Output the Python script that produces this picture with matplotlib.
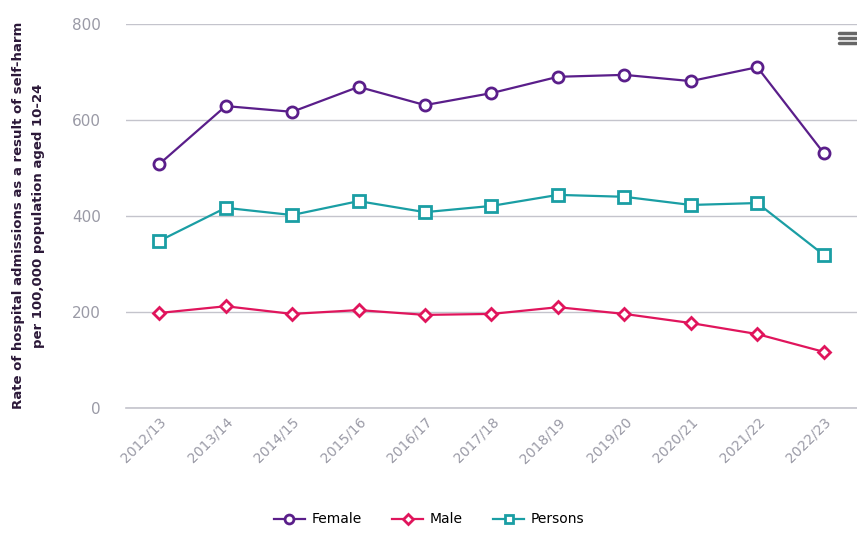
import matplotlib
matplotlib.use('Agg')
import matplotlib.pyplot as plt
from matplotlib.lines import Line2D

years = ['2012/13', '2013/14', '2014/15', '2015/16', '2016/17', '2017/18',
         '2018/19', '2019/20', '2020/21', '2021/22', '2022/23']
female = [508, 629, 617, 669, 631, 656, 690, 694, 681, 710, 531]
male = [198, 212, 196, 204, 194, 196, 210, 196, 177, 154, 117]
persons = [348, 417, 402, 431, 408, 421, 444, 440, 423, 427, 319]

c_female = '#5a1e8a'
c_male = '#e0155c'
c_persons = '#1a9ea4'

fig = plt.figure(figsize=(8.57, 5.33), dpi=100)
ax = fig.add_axes([0.147, 0.2345, 0.853, 0.7205])

x = list(range(len(years)))
ax.plot(x, female, color=c_female, lw=1.6, marker='o', ms=8, mfc='white',
        mec=c_female, mew=2, label='Female', zorder=3)
ax.plot(x, male, color=c_male, lw=1.6, marker='D', ms=6.5, mfc='white',
        mec=c_male, mew=2, label='Male', zorder=3)
ax.plot(x, persons, color=c_persons, lw=1.6, marker='s', ms=8, mfc='white',
        mec=c_persons, mew=2, label='Persons', zorder=3)

ax.set_xlim(-0.5, len(years) - 0.5)
ax.set_ylim(0, 800)
ax.set_yticks([0, 200, 400, 600, 800])
ax.set_xticks(x)
ax.set_xticklabels(years, rotation=45, ha='right', rotation_mode='anchor')
ax.tick_params(axis='x', length=0, pad=5, labelsize=10, labelcolor='#9a9aa6')
ax.tick_params(axis='y', length=0, pad=18, labelsize=11, labelcolor='#9a9aa6')
ax.grid(axis='y', color='#c4c4cc', lw=1)
ax.axhline(0, color='#c4c4cc', lw=1.2, clip_on=False, zorder=1)
ax.set_axisbelow(True)
for s in ax.spines.values():
    s.set_visible(False)

fig.text(0.033, 0.595, 'Rate of hospital admissions as a result of self-harm\nper 100,000 population aged 10-24',
         rotation=90, ha='center', va='center', fontsize=9.5, fontweight='bold',
         color='#2b1838', linespacing=1.65)

ax.legend(loc='center', bbox_to_anchor=(0.415, -0.29), bbox_transform=ax.transAxes,
          ncol=3, frameon=False, fontsize=10, handlelength=2.2, columnspacing=2.2,
          handletextpad=0.5, markerscale=0.8)

# hamburger menu icon
for yy in [0.939, 0.929, 0.919]:
    fig.add_artist(Line2D([0.979, 0.999], [yy, yy], color='#666666', lw=2.5,
                          solid_capstyle='round'))

fig.savefig('out.png', dpi=100)
